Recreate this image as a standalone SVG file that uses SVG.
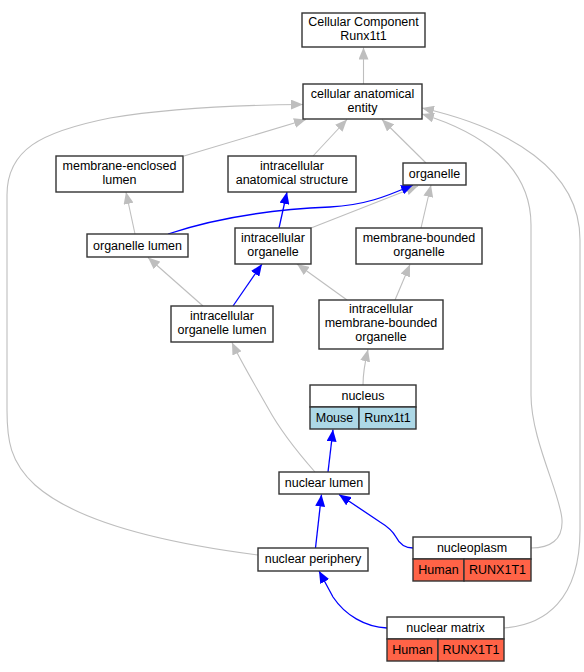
<svg xmlns="http://www.w3.org/2000/svg" width="584" height="672" viewBox="0 0 584 672">
<style>
text{font-family:"Liberation Sans",Arial,sans-serif;font-size:12.5px;fill:#000;text-anchor:middle}
.box{fill:#fff;stroke:#333;stroke-width:1.4}
.g{fill:none;stroke:#bebebe;stroke-width:1.1}
.b{fill:none;stroke:#0000ff;stroke-width:1.3}
.mouse{fill:#add8e6;stroke:#333;stroke-width:1.4}
.human{fill:#ff6347;stroke:#333;stroke-width:1.4}
</style>
<defs>
<marker id="ag" viewBox="0 0 12 10" refX="12" refY="5" markerWidth="12" markerHeight="10" markerUnits="userSpaceOnUse" orient="auto"><path d="M0,0 L12,5 L0,10 z" fill="#bebebe"/></marker>
<marker id="ab" viewBox="0 0 12 10" refX="12" refY="5" markerWidth="12" markerHeight="10" markerUnits="userSpaceOnUse" orient="auto"><path d="M0,0 L12,5 L0,10 z" fill="#0000ff"/></marker>
</defs>
<rect width="584" height="672" fill="#fff"/>
<g id="connectors">
<path class="g" marker-end="url(#ag)" d="M363.5,84 L363.5,47.5"/>
<path class="g" marker-end="url(#ag)" d="M184,156 L306,119.5"/>
<path class="g" marker-end="url(#ag)" d="M313,156 L347,119.5"/>
<path class="g" marker-end="url(#ag)" d="M426,163 L382,119.5"/>
<path class="g" marker-end="url(#ag)" d="M258,555 C180,545 80,525 35,485 C10,462 7,440 7,410 L7,195 C7,150 40,132 110,118 C170,108 240,105 303,104.5"/>
<path class="g" marker-end="url(#ag)" d="M531,548 C550,548 563,540 562,520 C561,495 531,440 531,395 L531,225 C531,165 480,132 422,114"/>
<path class="g" marker-end="url(#ag)" d="M504,628 C545,625 580,600 580,530 L580,240 C580,170 510,128 422,108"/>
<path class="g" marker-end="url(#ag)" d="M135,234 L126,192"/>
<path class="g" marker-end="url(#ag)" d="M311,228 L418,186"/>
<path class="g" marker-end="url(#ag)" d="M421,228 L431,185"/>
<path class="g" marker-end="url(#ag)" d="M203,306 L148,257.5"/>
<path class="g" marker-end="url(#ag)" d="M347,300 L297,264"/>
<path class="g" marker-end="url(#ag)" d="M395,300 L410,264.5"/>
<path class="g" marker-end="url(#ag)" d="M363,385 C363,375 365,362 368,349.5"/>
<path class="g" marker-end="url(#ag)" d="M315,472 C300,455 280,430 268,408 C255,385 240,360 232,342.5"/>
<path class="b" marker-end="url(#ab)" d="M168,234 C210,220 260,210 330,207 C365,205 385,197 413,185"/>
<path class="b" marker-end="url(#ab)" d="M279,228 L287,192"/>
<path class="b" marker-end="url(#ab)" d="M233,306 L262,264"/>
<path class="b" marker-end="url(#ab)" d="M328,472 L333,429.5"/>
<path class="b" marker-end="url(#ab)" d="M315.5,548 L321.5,494.5"/>
<path class="b" marker-end="url(#ab)" d="M413,548 C405,548 400,545 396,537 C392,530 385,525 380,522 L339,494.5"/>
<path class="b" marker-end="url(#ab)" d="M387,628 C365,627 345,615 333,597 L319,571"/>
</g>
<g id="cellular-component">
<rect class="box" x="302" y="13" width="123" height="34"/>
<text x="363.5" y="26">Cellular Component</text>
<text x="363.5" y="40">Runx1t1</text>
</g>
<g id="cellular-anatomical-entity">
<rect class="box" x="303" y="84" width="119" height="35"/>
<text x="362.5" y="97.5">cellular anatomical</text>
<text x="362.5" y="111.5">entity</text>
</g>
<g id="membrane-enclosed-lumen">
<rect class="box" x="56" y="156" width="127" height="36"/>
<text x="119.5" y="169.5">membrane-enclosed</text>
<text x="119.5" y="183.5">lumen</text>
</g>
<g id="intracellular-anatomical-structure">
<rect class="box" x="228" y="156" width="128" height="36"/>
<text x="292" y="169.5">intracellular</text>
<text x="292" y="183.5">anatomical structure</text>
</g>
<g id="organelle">
<rect class="box" x="403" y="163" width="63" height="22"/>
<text x="434.5" y="178">organelle</text>
</g>
<g id="organelle-lumen">
<rect class="box" x="87" y="234" width="101" height="23"/>
<text x="137.5" y="249.5">organelle lumen</text>
</g>
<g id="intracellular-organelle">
<rect class="box" x="235" y="228" width="76" height="36"/>
<text x="273" y="241.5">intracellular</text>
<text x="273" y="255.5">organelle</text>
</g>
<g id="membrane-bounded-organelle">
<rect class="box" x="356" y="228" width="126" height="36"/>
<text x="419" y="241.5">membrane-bounded</text>
<text x="419" y="255.5">organelle</text>
</g>
<g id="intracellular-organelle-lumen">
<rect class="box" x="171" y="306" width="102" height="36"/>
<text x="222" y="319.5">intracellular</text>
<text x="222" y="333.5">organelle lumen</text>
</g>
<g id="intracellular-membrane-bounded-organelle">
<rect class="box" x="319" y="300" width="124" height="49"/>
<text x="381" y="313">intracellular</text>
<text x="381" y="327">membrane-bounded</text>
<text x="381" y="341">organelle</text>
</g>
<g id="nucleus">
<rect class="box" x="310" y="385" width="106" height="22"/>
<text x="363" y="400">nucleus</text>
<rect class="mouse" x="310" y="407" width="49" height="22"/>
<rect class="mouse" x="359" y="407" width="57" height="22"/>
<text x="334.5" y="421.5">Mouse</text>
<text x="387.5" y="421.5">Runx1t1</text>
</g>
<g id="nuclear-lumen">
<rect class="box" x="279" y="472" width="90" height="22"/>
<text x="324" y="486.5">nuclear lumen</text>
</g>
<g id="nuclear-periphery">
<rect class="box" x="258" y="548" width="110" height="23"/>
<text x="313" y="563">nuclear periphery</text>
</g>
<g id="nucleoplasm">
<rect class="box" x="413" y="537" width="118" height="22"/>
<text x="472" y="551.5">nucleoplasm</text>
<rect class="human" x="413" y="559" width="51" height="22"/>
<rect class="human" x="464" y="559" width="67" height="22"/>
<text x="438.5" y="573.5">Human</text>
<text x="497.5" y="573.5">RUNX1T1</text>
</g>
<g id="nuclear-matrix">
<rect class="box" x="387" y="617" width="117" height="22"/>
<text x="445.5" y="631.5">nuclear matrix</text>
<rect class="human" x="387" y="639" width="51" height="22"/>
<rect class="human" x="438" y="639" width="66" height="22"/>
<text x="412.5" y="653.5">Human</text>
<text x="471" y="653.5">RUNX1T1</text>
</g>
</svg>
